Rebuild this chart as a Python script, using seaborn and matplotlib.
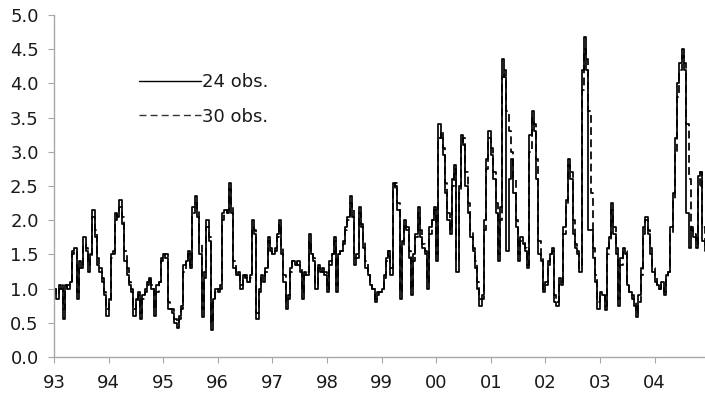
import matplotlib
matplotlib.use("Agg")
import matplotlib.pyplot as plt
import matplotlib.dates as mdates
from matplotlib.lines import Line2D
from matplotlib.ticker import FormatStrFormatter
import pandas as pd
import seaborn as sns

# Semi-monthly observations, Jan 1993 onwards
START = "1993-01-01"
SERIES_NAMES = ["24 obs.", "30 obs."]

vol_24 = [
    1.0, 0.85, 1.05, 1.0, 0.55, 1.05, 1.0, 1.1, 1.55, 1.6, 0.85, 1.4,
    1.3, 1.75, 1.55, 1.25, 1.5, 2.15, 1.75, 1.35, 1.25, 1.1, 0.9, 0.6,
    0.85, 1.5, 1.5, 2.1, 2.05, 2.3, 1.95, 1.4, 1.2, 1.05, 0.95, 0.6,
    0.85, 0.95, 0.55, 0.9, 1.0, 1.1, 1.15, 1.0, 0.6, 1.05, 1.1, 1.45,
    1.5, 1.45, 0.7, 0.7, 0.65, 0.5, 0.42, 0.6, 0.75, 1.35, 1.4, 1.55,
    1.3, 2.2, 2.35, 2.05, 1.5, 0.58, 1.25, 2.0, 1.7, 0.4, 0.85, 1.0,
    0.95, 1.05, 2.1, 2.15, 2.1, 2.55, 2.1, 1.3, 1.2, 1.25, 1.0, 1.2,
    1.15, 1.1, 1.2, 2.0, 1.8, 0.55, 1.0, 1.2, 1.1, 1.3, 1.75, 1.55,
    1.5, 1.6, 1.8, 2.0, 1.5, 1.1, 0.7, 0.9, 1.3, 1.4, 1.35, 1.4,
    1.25, 0.85, 1.25, 1.2, 1.8, 1.5, 1.4, 1.0, 1.35, 1.25, 1.3, 1.2,
    0.95, 1.4, 1.5, 1.75, 0.95, 1.5, 1.55, 1.7, 1.9, 2.05, 2.35, 2.05,
    1.35, 1.5, 2.2, 1.9, 1.6, 1.3, 1.2, 1.05, 1.0, 0.8, 0.95, 0.95,
    1.0, 1.2, 1.45, 1.55, 1.2, 2.55, 2.5, 2.15, 0.85, 1.7, 2.0, 1.85,
    1.45, 0.9, 1.5, 1.8, 2.2, 1.75, 1.6, 1.5, 1.0, 1.9, 2.0, 2.2,
    1.4, 3.4, 3.2, 2.95, 2.4, 2.0, 1.8, 2.6, 2.8, 1.25, 2.5, 3.25,
    3.1, 2.5, 2.1, 1.75, 1.55, 1.3, 1.0, 0.75, 0.9, 2.0, 2.9, 3.3,
    2.95, 2.6, 2.1, 1.4, 2.2, 4.35, 4.1, 1.55, 2.6, 2.9, 2.4, 1.9,
    1.4, 1.75, 1.65, 1.55, 1.3, 3.25, 3.6, 3.3, 2.6, 1.5, 1.4, 0.95,
    1.1, 1.4, 1.5, 1.6, 0.8, 0.75, 1.15, 1.05, 1.9, 2.3, 2.9, 2.6,
    1.8, 1.6, 1.5, 1.25, 4.2, 4.68, 4.2, 1.85, 1.85, 1.45, 1.1, 0.7,
    0.95, 0.9, 0.68, 1.6, 1.75, 2.25, 1.8, 1.5, 0.75, 1.45, 1.6, 1.5,
    1.05, 0.95, 0.85, 0.75, 0.58, 0.9, 1.3, 1.9, 2.05, 1.8, 1.5, 1.25,
    1.1, 1.05, 1.0, 1.1, 0.9, 1.2, 1.25, 1.9, 2.4, 3.2, 4.0, 4.3,
    4.5, 4.2, 2.1, 1.6, 1.9, 1.75, 1.6, 2.65, 2.7, 1.7, 1.55,
]

vol_30 = [
    1.0, 0.9, 1.0, 1.05, 0.7, 1.0, 1.05, 1.05, 1.5, 1.55, 0.95, 1.3,
    1.35, 1.65, 1.6, 1.35, 1.45, 2.05, 1.85, 1.45, 1.3, 1.15, 0.95, 0.7,
    0.8, 1.45, 1.55, 2.0, 2.1, 2.2, 2.05, 1.55, 1.3, 1.1, 1.0, 0.7,
    0.8, 0.9, 0.65, 0.85, 0.95, 1.05, 1.15, 1.05, 0.7, 0.95, 1.1, 1.4,
    1.45, 1.5, 0.8, 0.7, 0.7, 0.55, 0.5, 0.55, 0.7, 1.25, 1.4, 1.5,
    1.35, 2.1, 2.25, 2.15, 1.65, 0.7, 1.15, 1.9, 1.75, 0.5, 0.8, 0.95,
    1.0, 1.0, 2.0, 2.1, 2.15, 2.45, 2.2, 1.4, 1.25, 1.2, 1.05, 1.15,
    1.2, 1.1, 1.15, 1.9, 1.85, 0.65, 0.95, 1.15, 1.15, 1.25, 1.7, 1.6,
    1.5, 1.55, 1.75, 1.95, 1.6, 1.2, 0.8, 0.85, 1.25, 1.4, 1.4, 1.35,
    1.3, 0.95, 1.2, 1.25, 1.7, 1.55, 1.45, 1.05, 1.3, 1.3, 1.25, 1.25,
    1.0, 1.35, 1.5, 1.7, 1.05, 1.45, 1.55, 1.65, 1.85, 2.0, 2.25, 2.15,
    1.45, 1.45, 2.1, 1.95, 1.7, 1.4, 1.25, 1.1, 1.0, 0.85, 0.9, 0.95,
    1.0, 1.15, 1.4, 1.55, 1.3, 2.45, 2.55, 2.25, 0.95, 1.6, 1.95, 1.9,
    1.55, 1.0, 1.4, 1.75, 2.1, 1.85, 1.65, 1.55, 1.1, 1.8, 2.0, 2.15,
    1.5, 3.2, 3.3, 3.05, 2.55, 2.1, 1.85, 2.5, 2.75, 1.4, 2.4, 3.1,
    3.2, 2.7, 2.25, 1.85, 1.6, 1.4, 1.1, 0.85, 0.85, 1.85, 2.75, 3.2,
    3.05, 2.7, 2.25, 1.5, 2.0, 4.1, 4.2, 3.6, 3.3, 3.0, 2.6, 2.0,
    1.5, 1.7, 1.7, 1.6, 1.35, 3.0, 3.5, 3.4, 2.9, 1.7, 1.45, 1.0,
    1.05, 1.35, 1.5, 1.55, 0.9, 0.8, 1.1, 1.1, 1.8, 2.2, 2.8, 2.7,
    2.0, 1.65, 1.55, 1.3, 3.9, 4.5, 4.35, 3.6, 2.4, 1.6, 1.2, 0.8,
    0.9, 0.9, 0.75, 1.5, 1.7, 2.15, 1.9, 1.6, 0.85, 1.35, 1.55, 1.55,
    1.1, 0.95, 0.9, 0.8, 0.65, 0.8, 1.2, 1.8, 2.0, 1.85, 1.6, 1.3,
    1.15, 1.05, 1.0, 1.05, 0.95, 1.15, 1.25, 1.8, 2.3, 3.0, 3.8, 4.2,
    4.4, 4.3, 3.4, 2.6, 1.85, 1.8, 1.65, 2.5, 2.7, 1.9, 1.6,
]

Y_TICKS = [0.0, 0.5, 1.0, 1.5, 2.0, 2.5, 3.0, 3.5, 4.0, 4.5, 5.0]

dates = pd.date_range(START, periods=len(vol_24), freq="SMS")
df = pd.concat([
    pd.DataFrame({"date": dates, "value": vol_24, "series": SERIES_NAMES[0]}),
    pd.DataFrame({"date": dates, "value": vol_30, "series": SERIES_NAMES[1]}),
])

sns.set_theme(style="ticks")
plt.rcParams["font.family"] = ["DejaVu Sans"]

fig = plt.figure(figsize=(7.05, 3.99), dpi=100)
ax = fig.add_axes([54 / 705, 1 - 357 / 399, 651 / 705, 342 / 399])

sns.lineplot(
    data=df, x="date", y="value", style="series", style_order=SERIES_NAMES[::-1],
    dashes={SERIES_NAMES[0]: "", SERIES_NAMES[1]: (4.5, 2.5)},
    color="black", linewidth=1.25, drawstyle="steps-post",
    estimator=None, legend=False, ax=ax,
)

ax.set_xlim(pd.Timestamp("1993-01-01"), pd.Timestamp("2004-12-03"))
ax.set_ylim(0, 5)
ax.set_yticks(Y_TICKS)
ax.yaxis.set_major_formatter(FormatStrFormatter("%.1f"))
ax.xaxis.set_major_locator(mdates.YearLocator())
ax.xaxis.set_major_formatter(mdates.DateFormatter("%y"))
ax.set_xlabel("")
ax.set_ylabel("")

sns.despine(ax=ax)
for side in ("left", "bottom"):
    ax.spines[side].set_color("#a8a8a8")
    ax.spines[side].set_linewidth(1.0)
ax.tick_params(axis="both", direction="out", length=4, width=0.8,
               color="#a8a8a8", labelsize=13, labelcolor="#1a1a1a")
ax.tick_params(axis="y", pad=7)
ax.tick_params(axis="x", pad=8)

handles = [
    Line2D([], [], color="black", lw=1.0),
    Line2D([], [], color="#333333", lw=1.0, ls=(0, (5, 3))),
]
ax.legend(handles, SERIES_NAMES, frameon=False, loc="upper left",
          bbox_to_anchor=(0.131, 0.829), borderaxespad=0, borderpad=0,
          handlelength=3.4, handletextpad=0.1, labelspacing=0.9,
          fontsize=13, labelcolor="#1a1a1a")

fig.savefig("out.png", dpi=100)
